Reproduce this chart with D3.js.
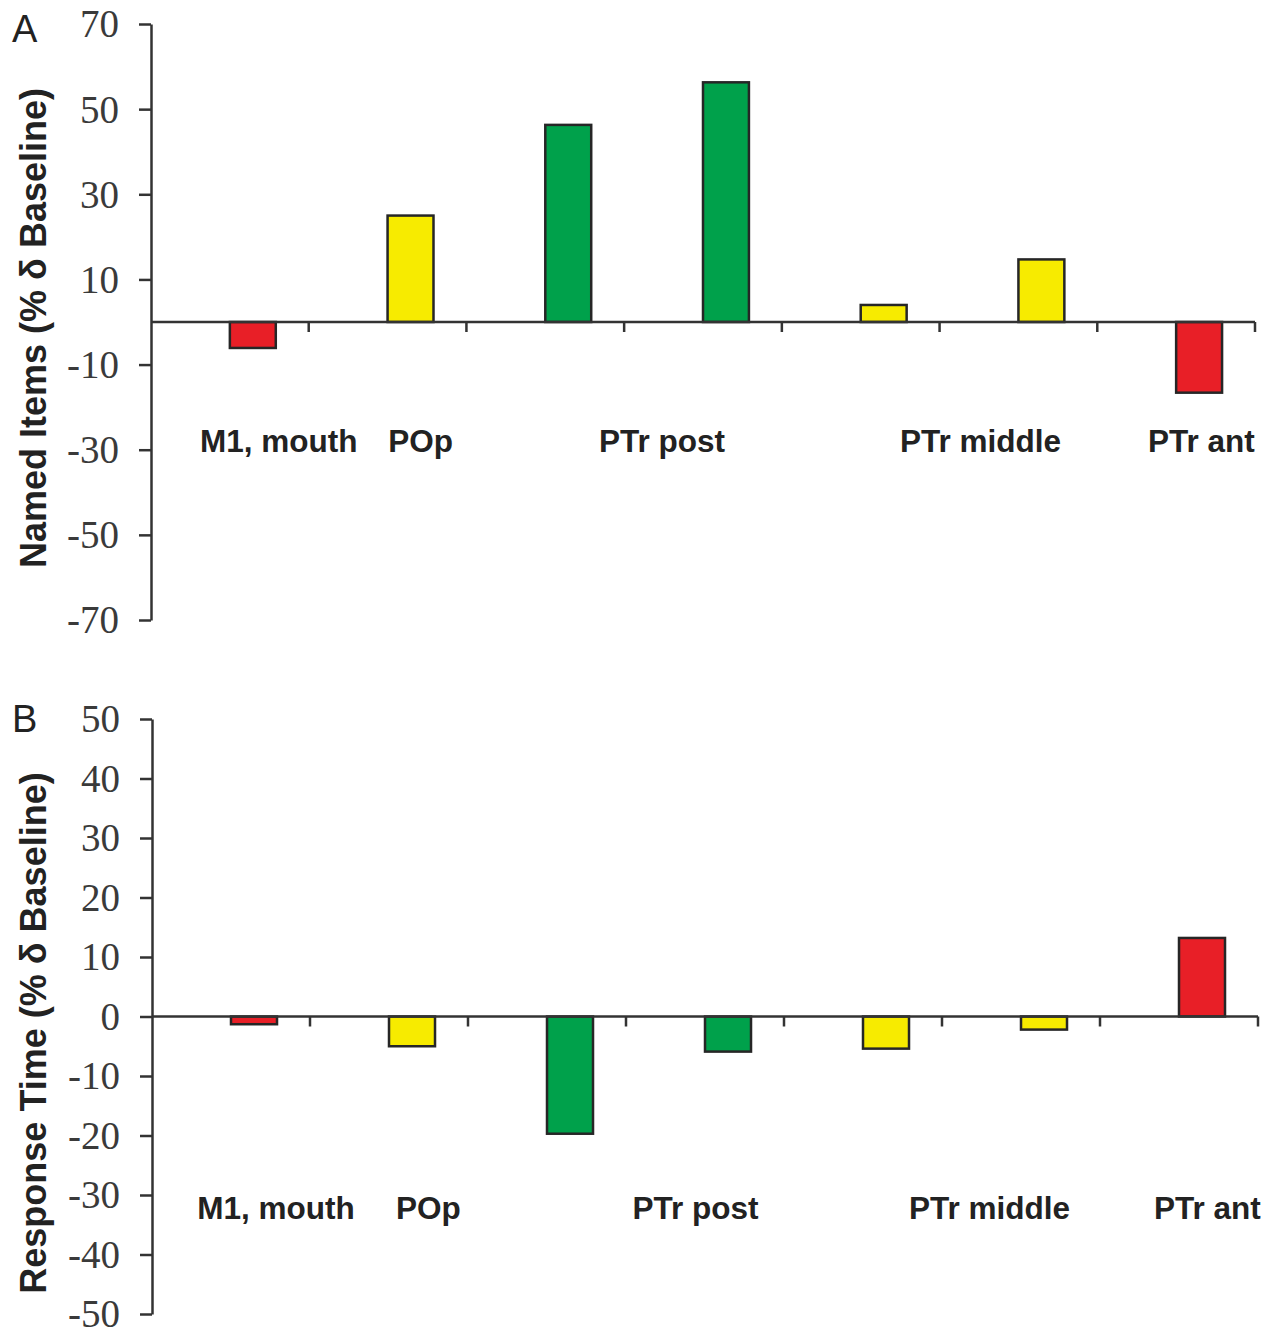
<!DOCTYPE html>
<html>
<head>
<meta charset="utf-8">
<script src="https://cdn.jsdelivr.net/npm/d3@7"></script>
<style>
  body { margin: 0; background: #fff; }
  svg { display: block; }
  .tick-label { font-family: "Liberation Serif", "Times New Roman", serif; font-size: 39px; fill: #3a3a3a; }
  .cat-label { font-family: "Liberation Sans", Arial, sans-serif; font-weight: bold; font-size: 31.5px; fill: #222; }
  .y-title { font-family: "Liberation Sans", Arial, sans-serif; font-weight: bold; font-size: 36px; fill: #222; }
  .panel-letter { font-family: "Liberation Sans", Arial, sans-serif; font-size: 38px; fill: #222; }
</style>
</head>
<body>
<div id="chart"></div>
<script>
// stimulation sites along the x axis, one bar each
const sites = ["s1", "s2", "s3", "s4", "s5", "s6", "s7"];
// effect class of each site (drives the colour)
const siteClass = ["neg", "mid", "pos", "pos", "mid", "mid", "neg"];
// region labels written under the bars
const regionLabels = ["M1, mouth", "POp", "PTr post", "PTr middle", "PTr ant"];

// panel A: named items, % change from baseline
const namedItems = [-6.1, 25.0, 46.3, 56.3, 4.0, 14.7, -16.6];
const namedTicks = [-70, -50, -30, -10, 10, 30, 50, 70];

// panel B: response time, % change from baseline
const responseTime = [-1.3, -5.0, -19.7, -5.9, -5.4, -2.2, 13.2];
const responseTicks = [-50, -40, -30, -20, -10, 0, 10, 20, 30, 40, 50];

const color = d3.scaleOrdinal()
  .domain(["neg", "mid", "pos"])
  .range(["#e81f27", "#f7eb00", "#00a14b"]);

var svg = d3.select("#chart").append("svg")
  .attr("width", 1271)
  .attr("height", 1333);

function panel(opts) {
  var g = svg.append("g");

  var y = d3.scaleLinear()
    .domain(opts.domain)
    .range([opts.bottom, opts.top]);

  var x = d3.scaleBand()
    .domain(sites)
    .range([opts.left, opts.right]);

  // two slots per band, the bar sits in the second one
  var slot = d3.scaleBand()
    .domain(["a", "b"])
    .range([0, x.bandwidth()])
    .paddingOuter(0.717);

  // y axis (plain hyphen for negatives, like the original)
  var yAxis = g.append("g")
    .attr("transform", "translate(" + opts.left + ",0)")
    .call(d3.axisLeft(y)
      .tickValues(opts.ticks)
      .tickFormat(function(d) { return String(d); })
      .tickSize(12).tickPadding(20).tickSizeOuter(0));
  yAxis.select(".domain").attr("stroke", "#333").attr("stroke-width", 2.5);
  yAxis.selectAll(".tick line").attr("stroke", "#333").attr("stroke-width", 2.5);
  yAxis.selectAll(".tick text")
    .attr("class", "tick-label")
    .attr("fill", null)
    .attr("dy", "0.33em");
  yAxis.attr("font-size", null).attr("font-family", null);

  // bars
  g.selectAll(".bar")
    .data(opts.values)
    .enter().append("rect")
      .attr("class", "bar")
      .attr("x", function(d, i) { return x(sites[i]) + slot("b"); })
      .attr("width", slot.bandwidth())
      .attr("y", function(d) { return y(Math.max(0, d)); })
      .attr("height", function(d) { return Math.abs(y(d) - y(0)); })
      .attr("fill", function(d, i) { return color(siteClass[i]); })
      .attr("stroke", "#262626")
      .attr("stroke-width", 2.5);

  // zero line with small ticks between sites
  var y0 = y(0);
  g.append("line")
    .attr("x1", opts.left).attr("x2", opts.right)
    .attr("y1", y0).attr("y2", y0)
    .attr("stroke", "#333").attr("stroke-width", 2.5);
  g.selectAll(".xtick")
    .data(sites)
    .enter().append("line")
      .attr("class", "xtick")
      .attr("x1", function(d) { return x(d) + x.bandwidth(); })
      .attr("x2", function(d) { return x(d) + x.bandwidth(); })
      .attr("y1", y0).attr("y2", y0 + 10)
      .attr("stroke", "#333").attr("stroke-width", 2.5);

  // region labels (positions in band units)
  g.selectAll(".cat-label")
    .data(regionLabels)
    .enter().append("text")
      .attr("class", "cat-label")
      .attr("text-anchor", "middle")
      .attr("x", function(d, i) { return opts.left + opts.labelAt[i] * x.step(); })
      .attr("y", opts.labelY)
      .text(function(d) { return d; });

  // y title
  g.append("text")
    .attr("class", "y-title")
    .attr("text-anchor", "middle")
    .attr("transform", "translate(" + 46 + "," + opts.titleMid + ") rotate(-90)")
    .text(opts.title);

  g.append("text")
    .attr("class", "panel-letter")
    .attr("x", 12)
    .attr("y", opts.letterY)
    .text(opts.letter);
}

panel({
  values: namedItems, ticks: namedTicks, domain: [-70, 70],
  top: 24, bottom: 620, left: 151, right: 1255,
  labelAt: [0.81, 1.71, 3.24, 5.26, 6.66], labelY: 452,
  title: "Named Items (% \u03b4 Baseline)", titleMid: 328,
  letter: "A", letterY: 42
});

panel({
  values: responseTime, ticks: responseTicks, domain: [-50, 50],
  top: 719, bottom: 1314, left: 152, right: 1258,
  labelAt: [0.785, 1.75, 3.44, 5.30, 6.68], labelY: 1219,
  title: "Response Time (% \u03b4 Baseline)", titleMid: 1033,
  letter: "B", letterY: 732
});
</script>
</body>
</html>
